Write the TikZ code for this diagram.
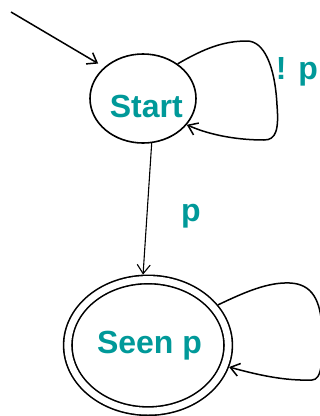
\documentclass[tikz,border=0pt]{standalone}
\usepackage{fontspec}
\setmainfont{Liberation Sans}
\usetikzlibrary{arrows.meta,shapes.geometric}
\definecolor{labelteal}{RGB}{0,153,153}
\begin{document}
\begin{tikzpicture}[x=1pt,y=-1pt,
  statebox/.style={draw, ellipse, line width=1.6pt, inner sep=0pt},
  txt/.style={text=labelteal, font=\fontsize{32}{32}\selectfont\bfseries, anchor=base, inner sep=0pt},
  link/.style={line width=1.5pt, -{Straight Barb[length=9pt,width=13pt]}},
]
\clip (0,0) rectangle (320,416);

% states
\node[statebox, minimum width=106pt, minimum height=89pt] (start) at (143,98.5) {};
\node[statebox, double, double distance=6.8pt, minimum width=160.4pt,
      minimum height=131.6pt, outer sep=5pt] (seen) at (148,345.3) {};

% state names and transition labels
\node[txt] (startText) at (146.3,117.3) {Start};
\node[txt] (seenText) at (149.5,353.5) {Seen p};
\node[txt] (pLabel) at (191,221) {p};
\node[txt] (notpLabel) at (297,79.3) {! p};

% initial arrow
\coordinate (entry) at (11,12);
\draw[link, shorten >=7pt] (entry) -- (start.141);

% start -> seen p
\draw[link, line width=1.1pt] (start.-79) -- (seen.94);

% self-loop on start
\draw[link] (start.45) .. controls (205,48) and (224,41) .. (247,41)
  .. controls (264,41) and (275,66) .. (277,105)
  .. controls (279,130) and (276,140) .. (264,140)
  .. controls (240,140) and (212,136) .. (start.-31);

% self-loop on seen p
\draw[link] (seen.30) .. controls (245,292) and (268,282) .. (290,283)
  .. controls (312,284) and (321,300) .. (322,330)
  .. controls (323,360) and (322,380) .. (312,380)
  .. controls (285,381) and (258,375) .. (seen.-15);
\end{tikzpicture}
\end{document}
